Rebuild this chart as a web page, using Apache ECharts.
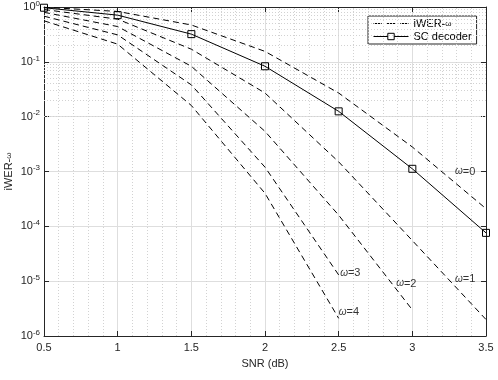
<!DOCTYPE html>
<html>
<head>
<meta charset="utf-8">
<script src="https://cdn.jsdelivr.net/npm/echarts@6/dist/echarts.min.js"></script>
<style>html,body{margin:0;padding:0;background:#fff}#chart{width:498px;height:380px}</style>
</head>
<body>
<div id="chart"></div>
<script>
// SNR points (dB)
var snr = [0.5, 1, 1.5, 2, 2.5, 3, 3.5];
// iWER-omega curves, omega = 0..4
var iwer0 = [0.99, 0.83, 0.47, 0.155, 0.027, 0.0028, 0.00021];
var iwer1 = [0.9, 0.6, 0.17, 0.027, 0.0015, 0.000055, 0.000002];
var iwer2 = [0.8, 0.44, 0.083, 0.0054, 0.00016, 0.000003];
var iwer3 = [0.68, 0.31, 0.038, 0.0012, 0.000013];
var iwer4 = [0.56, 0.21, 0.016, 0.0004, 0.0000021];
// SC decoder
var scDecoder = [0.97, 0.71, 0.32, 0.083, 0.0125, 0.00112, 0.000076];
var omegaNames = ['0', '1', '2', '3', '4'];

var font = 'Liberation Sans, Arial, Helvetica, sans-serif';
var axisColor = '#262626';

function pairs(xs, ys) {
  return ys.map(function (v, i) { return [xs[i], v]; });
}

// where the omega=... texts sit (data coords)
var labelAt = [[3.29, 1.0e-3], [3.29, 1.1e-5], [2.89, 9e-6], [2.51, 1.4e-5], [2.50, 2.7e-6]];

// minor grid lines
var minorY = [];
for (var e = -6; e < 0; e++) {
  for (var m = 2; m <= 9; m++) minorY.push({ yAxis: m * Math.pow(10, e) });
}
var minorX = [];
for (var k = 6; k < 35; k++) {
  if (k % 5 !== 0) minorX.push({ xAxis: k / 10 });
}

var supRich = {
  b: { fontSize: 11, color: axisColor, fontFamily: font },
  s: { fontSize: 8, color: axisColor, fontFamily: font, padding: [0, 0, 7, 0] }
};

var series = [];
// helper carrying the dotted minor grid
series.push({
  type: 'line', data: [[0.5, 1]], symbol: 'none', silent: true,
  lineStyle: { opacity: 0 }, z: 1,
  markLine: {
    silent: true, symbol: 'none', animation: false,
    label: { show: false },
    lineStyle: { color: '#d2d2d2', width: 1, type: [1, 2] },
    data: minorY.concat(minorX)
  }
});

[iwer0, iwer1, iwer2, iwer3, iwer4].forEach(function (ys) {
  series.push({
    type: 'line', name: 'iWER-ω', data: pairs(snr, ys),
    symbol: 'none', z: 5,
    lineStyle: { color: '#000', width: 1, type: [6, 4] },
    itemStyle: { color: '#000' }
  });
});

series.push({
  type: 'line', name: 'SC decoder', data: pairs(snr, scDecoder),
  symbol: 'rect', symbolSize: 7, z: 6,
  lineStyle: { color: '#000', width: 1 },
  itemStyle: { color: 'rgba(0,0,0,0)', borderColor: '#000', borderWidth: 1 }
});

series.push({
  type: 'scatter', data: labelAt.map(function (p, i) { return { value: p, name: omegaNames[i] }; }),
  symbolSize: 0, silent: true, z: 7,
  label: {
    show: true, position: [0, 0], align: 'left', verticalAlign: 'middle',
    formatter: function (p) { return '{w|ω}{t|=' + p.name + '}'; },
    rich: {
      w: { fontSize: 10, fontStyle: 'italic', color: '#000', fontFamily: font },
      t: { fontSize: 11, color: '#000', fontFamily: font }
    }
  }
});

var option = {
  animation: false,
  backgroundColor: '#fff',
  grid: { left: 44, right: 12, top: 7, bottom: 44, containLabel: false, outerBoundsMode: 'none' },
  legend: {
    orient: 'vertical', left: 368, top: 16,
    data: [
      { name: 'iWER-ω', icon: 'path://M0,0h8v1h-8zM13,0h8v1h-8zM26,0h8v1h-8z',
        itemStyle: { color: '#000', opacity: 1, borderWidth: 0 } },
      { name: 'SC decoder', itemStyle: { color: '#fff', borderColor: '#000', borderWidth: 1 },
        lineStyle: { color: '#000', width: 1, type: 'solid' } }
    ],
    backgroundColor: '#fff', borderColor: axisColor, borderWidth: 1,
    padding: [2, 5, 2, 5], itemGap: 2, itemWidth: 35, itemHeight: 8,
    formatter: function (n) { return n === 'iWER-ω' ? 'iWER-{w|ω}' : n; },
    textStyle: {
      fontFamily: font, fontSize: 11, color: '#000',
      rich: { w: { fontSize: 8, fontFamily: font, color: '#000' } }
    }
  },
  xAxis: [{
    type: 'value', min: 0.5, max: 3.5, interval: 0.5,
    name: 'SNR (dB)', nameLocation: 'middle', nameGap: 22,
    nameTextStyle: { fontFamily: font, fontSize: 11, color: axisColor },
    axisLine: { lineStyle: { color: axisColor, width: 1 } },
    axisTick: { inside: true, length: 5, lineStyle: { color: axisColor } },
    axisLabel: { fontFamily: font, fontSize: 11, color: axisColor, margin: 6 },
    splitLine: { show: true, lineStyle: { color: '#dedede', width: 1 } }
  }, {
    type: 'value', position: 'top', min: 0.5, max: 3.5, interval: 0.5,
    axisLine: { show: true, lineStyle: { color: axisColor, width: 1 } },
    axisTick: { show: true, inside: true, length: 5, lineStyle: { color: axisColor } },
    axisLabel: { show: false }, splitLine: { show: false }
  }],
  yAxis: [{
    type: 'log', logBase: 10, min: 1e-6, max: 1,
    name: 'iWER-{w|ω}', nameLocation: 'middle', nameGap: 30, nameMoveOverlap: false,
    nameTextStyle: {
      fontFamily: font, fontSize: 11, color: axisColor,
      rich: { w: { fontSize: 8, fontFamily: font, color: axisColor } }
    },
    axisLine: { show: true, lineStyle: { color: axisColor, width: 1 } },
    axisTick: { show: true, inside: true, length: 5, lineStyle: { color: axisColor } },
    axisLabel: {
      margin: 4, rich: supRich,
      formatter: function (v) { return '{b|10}{s|' + Math.round(Math.log10(v)) + '}'; }
    },
    splitLine: { show: true, lineStyle: { color: '#dedede', width: 1 } }
  }, {
    type: 'log', logBase: 10, min: 1e-6, max: 1, position: 'right',
    axisLine: { show: true, lineStyle: { color: axisColor, width: 1 } },
    axisTick: { show: true, inside: true, length: 5, lineStyle: { color: axisColor } },
    axisLabel: { show: false }, splitLine: { show: false }
  }],
  series: series
};

var chart = echarts.init(document.getElementById('chart'), null, { renderer: 'canvas' });
chart.setOption(option);
</script>
</body>
</html>
